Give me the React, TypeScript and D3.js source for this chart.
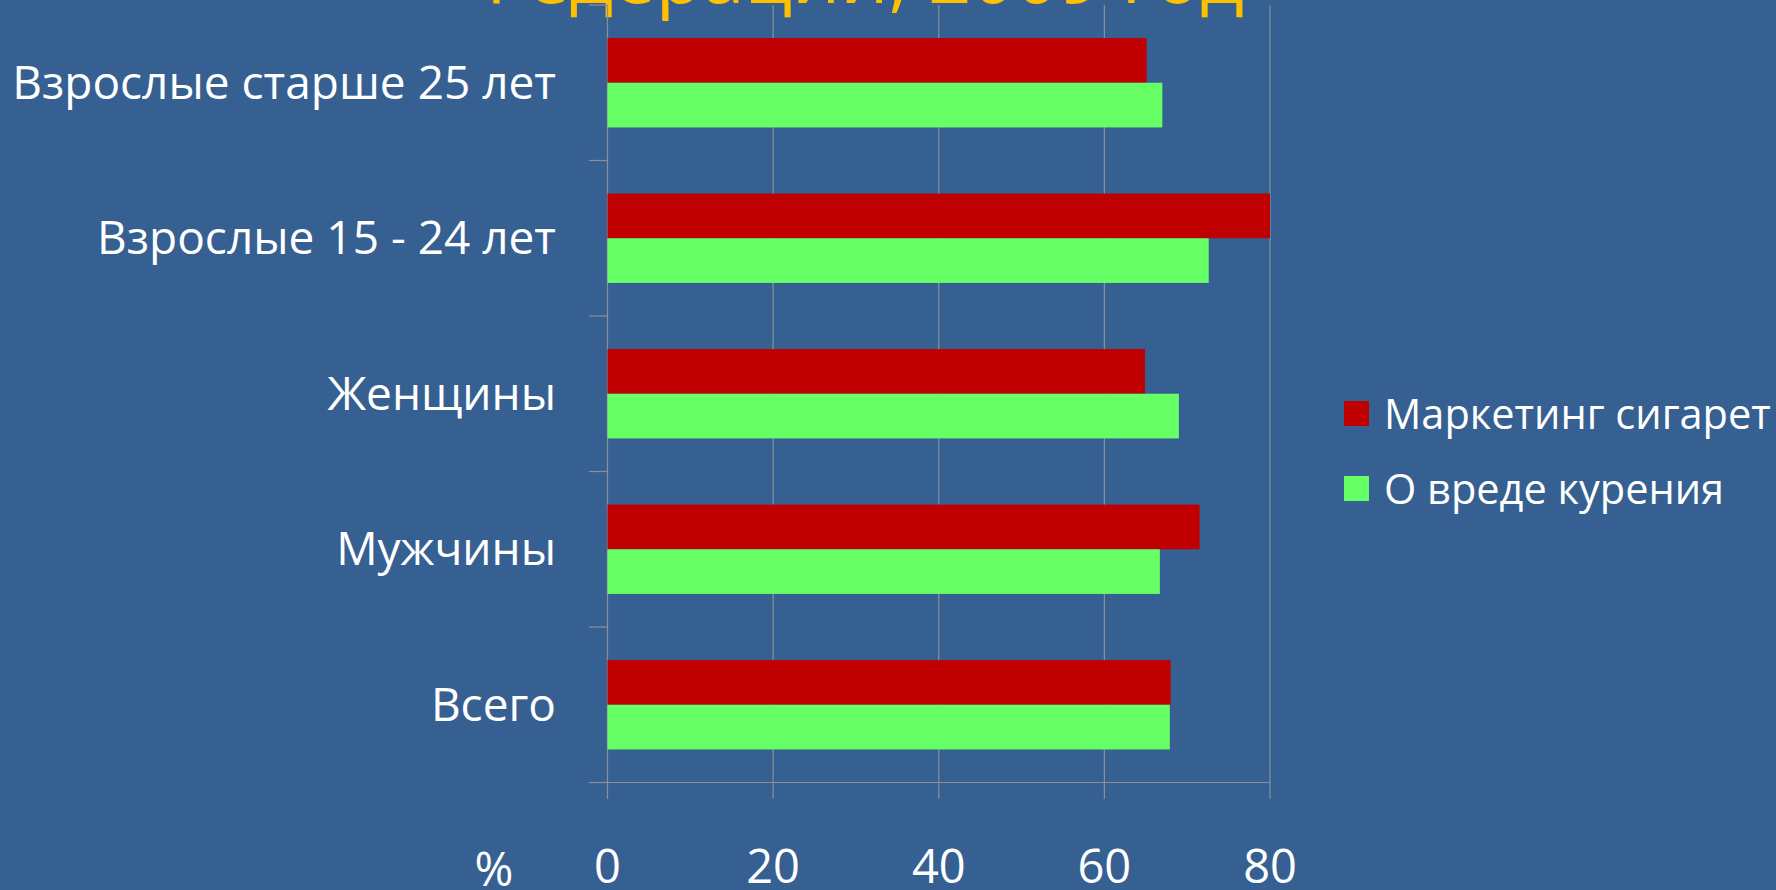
import React from "react";
import * as d3 from "d3";

const categories = ["Взрослые старше 25 лет", "Взрослые 15 - 24 лет", "Женщины", "Мужчины", "Всего"];
const marketing = [65.1, 80, 64.9, 71.5, 68];
const harm = [67, 72.6, 69, 66.7, 67.9];
const seriesNames = ["Маркетинг сигарет", "О вреде курения"];
const xTicks = [0, 20, 40, 60, 80];
const titleLine = "Федерации, 2009 год";

const W = 1776, H = 890;
const BG = "#366092";
const COLORS = ["#C00000", "#66FF66"];
const GRID = "#8a8f98";
const FONT = "'Open Sans', sans-serif";

export default function App() {
  const x = d3.scaleLinear().domain([0, 80]).range([607.5, 1270]);
  const y = d3.scaleBand<string>().domain(categories).range([5, 782.5]);
  const ys = d3.scaleBand<number>().domain([0, 1]).range([0, y.bandwidth()]).paddingInner(0).paddingOuter(0.74);
  const series = [marketing, harm];
  const boundaries = [...categories.map((c) => y(c) as number), 782.5];

  return (
    <svg width={W} height={H} style={{ position: "absolute", left: 0, top: 0, display: "block" }}>
      <rect x={0} y={0} width={W} height={H} fill={BG} />
      <text x={855} y={3} textAnchor="middle" fill="#FFC000" fontFamily={FONT} fontSize={76}>{titleLine}</text>
      {xTicks.filter((t) => t > 0).map((t) => (
        <line key={"g" + t} x1={x(t)} x2={x(t)} y1={5} y2={799} stroke={GRID} strokeWidth={1.2} />
      ))}
      {boundaries.map((b, i) => (
        <line key={"yt" + i} x1={589} x2={x(0)} y1={b} y2={b} stroke={GRID} strokeWidth={1.2} />
      ))}
      <line x1={x(0)} x2={x(0)} y1={5} y2={799} stroke={GRID} strokeWidth={1.2} />
      <line x1={589} x2={x(80)} y1={782.5} y2={782.5} stroke={GRID} strokeWidth={1.2} />
      {categories.map((c, i) => (
        <g key={c}>
          {series.map((s, k) => (
            <rect key={k} x={x(0)} y={(y(c) as number) + (ys(k) as number)} width={x(s[i]) - x(0)} height={ys.bandwidth()} fill={COLORS[k]} />
          ))}
          <text x={556} y={(y(c) as number) + y.bandwidth() / 2} dy="0.35em" textAnchor="end" fill="#fff" fontFamily={FONT} fontSize={46}>{c}</text>
        </g>
      ))}
      {xTicks.map((t) => (
        <text key={"xl" + t} x={x(t)} y={883} textAnchor="middle" fill="#fff" fontFamily={FONT} fontSize={47}>{t}</text>
      ))}
      <text x={494} y={886} textAnchor="middle" fill="#fff" fontFamily={FONT} fontSize={47}>%</text>
      {seriesNames.map((n, k) => (
        <g key={n}>
          <rect x={1344} y={401 + k * 75} width={25} height={25} fill={COLORS[k]} />
          <text x={1384} y={414 + k * 75} dy="0.35em" fill="#fff" fontFamily={FONT} fontSize={41.5}>{n}</text>
        </g>
      ))}
    </svg>
  );
}
